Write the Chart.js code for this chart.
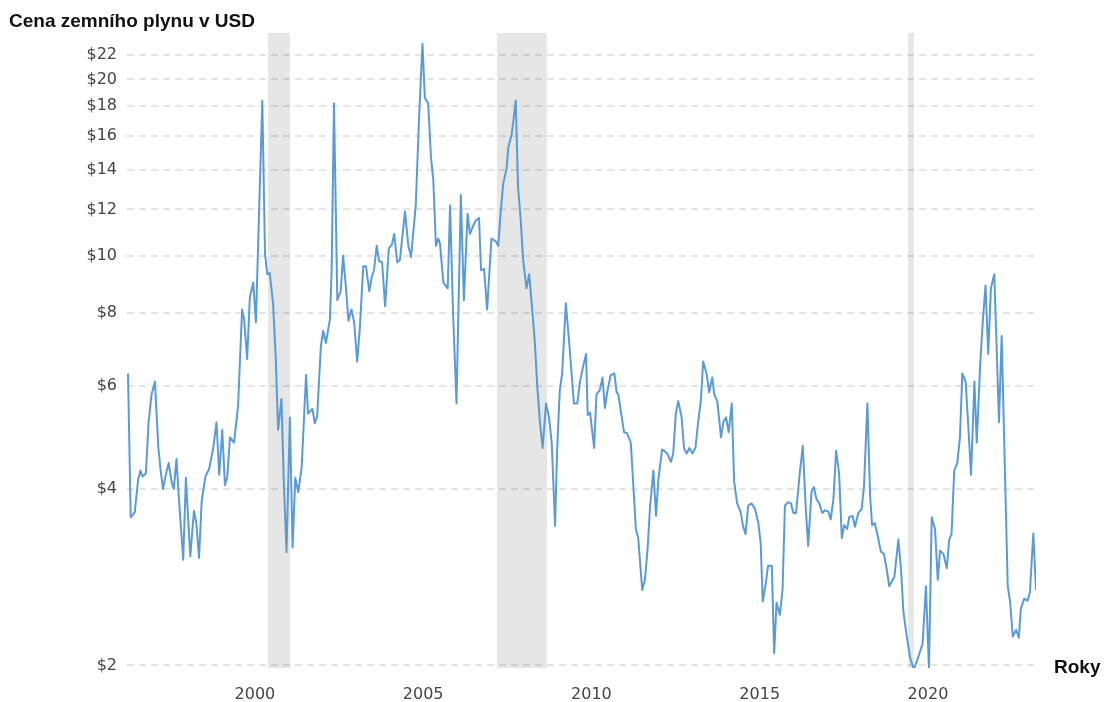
<!DOCTYPE html>
<html lang="cs">
<head>
    <meta charset="UTF-8">
    <title>Cena zemního plynu v USD</title>
    <script src="https://cdn.jsdelivr.net/npm/chart.js"></script>
    <style>
        body {
            margin: 0;
            background: white;
            font-family: "Liberation Sans", Arial, sans-serif;
        }

        #wrap {
            position: relative;
            width: 1104px;
            height: 702px;
        }

        .label {
            position: absolute;
            font-weight: bold;
            font-size: 19px;
            line-height: 19px;
            color: #111;
            white-space: nowrap;
        }
    </style>
</head>
<body>
    <div id="wrap">
        <canvas id="gasChart" width="1104" height="702"></canvas>
        <div class="label" style="left: 9px; top: 11px;">Cena zemního plynu v USD</div>
        <div class="label" style="left: 1054px; top: 657px;">Roky</div>
    </div>

    <script>
        // monthly-ish readings of the price line (year, USD)
        const dates = [
            1996.23,1996.31,1996.43,1996.53,1996.60,1996.66,1996.76,1996.84,1996.93,1997.03,
            1997.13,1997.20,1997.27,1997.36,1997.44,1997.52,1997.59,1997.67,1997.75,1997.87,
            1997.95,1998.08,1998.19,1998.26,1998.34,1998.42,1998.53,1998.64,1998.76,1998.86,
            1998.94,1999.03,1999.11,1999.18,1999.26,1999.38,1999.50,1999.62,1999.68,1999.77,
            1999.85,1999.95,2000.03,2000.10,2000.22,2000.30,2000.37,2000.44,2000.54,2000.62,
            2000.69,2000.79,2000.86,2000.94,2001.04,2001.12,2001.20,2001.29,2001.39,2001.52,
            2001.58,2001.71,2001.78,2001.85,2001.96,2002.03,2002.11,2002.23,2002.28,2002.35,
            2002.45,2002.55,2002.62,2002.70,2002.78,2002.87,2002.95,2003.04,2003.12,2003.22,
            2003.30,2003.40,2003.47,2003.54,2003.62,2003.69,2003.78,2003.87,2003.98,2004.07,
            2004.14,2004.23,2004.31,2004.46,2004.56,2004.64,2004.78,2004.88,2004.98,2005.05,
            2005.15,2005.23,2005.30,2005.38,2005.45,2005.50,2005.60,2005.73,2005.80,2005.89,
            2005.99,2006.12,2006.21,2006.32,2006.39,2006.47,2006.57,2006.66,2006.72,2006.81,
            2006.90,2007.03,2007.15,2007.23,2007.30,2007.38,2007.48,2007.53,2007.63,2007.68,
            2007.75,2007.82,2007.90,2007.97,2008.07,2008.15,2008.24,2008.32,2008.39,2008.47,
            2008.55,2008.65,2008.74,2008.82,2008.92,2008.98,2009.06,2009.13,2009.24,2009.34,
            2009.48,2009.58,2009.66,2009.76,2009.84,2009.89,2009.96,2010.08,2010.15,2010.25,
            2010.33,2010.40,2010.48,2010.57,2010.68,2010.75,2010.80,2010.88,2010.97,2011.06,
            2011.17,2011.24,2011.32,2011.39,2011.51,2011.59,2011.67,2011.74,2011.84,2011.92,
            2011.99,2012.10,2012.16,2012.25,2012.36,2012.43,2012.51,2012.58,2012.68,2012.75,
            2012.83,2012.91,2013.00,2013.09,2013.17,2013.25,2013.32,2013.42,2013.50,2013.59,
            2013.65,2013.74,2013.85,2013.92,2014.00,2014.08,2014.17,2014.24,2014.33,2014.43,
            2014.51,2014.58,2014.66,2014.76,2014.86,2014.96,2015.03,2015.09,2015.18,2015.25,
            2015.36,2015.43,2015.50,2015.60,2015.68,2015.75,2015.85,2015.93,2016.00,2016.08,
            2016.18,2016.28,2016.37,2016.44,2016.54,2016.61,2016.69,2016.77,2016.86,2016.94,
            2017.04,2017.11,2017.19,2017.27,2017.36,2017.44,2017.51,2017.60,2017.66,2017.76,
            2017.83,2017.93,2018.03,2018.10,2018.20,2018.28,2018.34,2018.42,2018.52,2018.60,
            2018.69,2018.77,2018.85,2018.92,2019.00,2019.12,2019.20,2019.27,2019.37,2019.47,
            2019.58,2019.68,2019.84,2019.94,2020.03,2020.11,2020.21,2020.29,2020.36,2020.46,
            2020.56,2020.63,2020.70,2020.78,2020.87,2020.95,2021.02,2021.12,2021.20,2021.28,
            2021.38,2021.45,2021.55,2021.63,2021.71,2021.79,2021.87,2021.97,2022.04,2022.11,
            2022.19,2022.29,2022.37,2022.44,2022.52,2022.62,2022.70,2022.76,2022.86,2022.96,
            2023.03,2023.13,2023.21
        ];
        const prices = [
            6.3,3.58,3.65,4.15,4.3,4.2,4.25,5.19,5.8,6.1,
            4.72,4.3,4.0,4.25,4.43,4.13,4.0,4.5,3.8,3.03,
            4.18,3.07,3.67,3.5,3.05,3.82,4.2,4.33,4.69,5.2,
            4.23,5.05,4.06,4.2,4.9,4.8,5.54,8.1,7.8,6.67,
            8.5,9.0,7.7,10.6,18.4,10.1,9.3,9.35,8.3,6.7,
            5.05,5.7,4.1,3.12,5.3,3.18,4.18,3.95,4.36,6.26,
            5.38,5.48,5.18,5.32,7.0,7.45,7.1,7.8,9.4,18.2,
            8.4,8.7,10.0,8.9,7.75,8.1,7.7,6.6,7.55,9.6,
            9.6,8.7,9.2,9.45,10.4,9.8,9.75,8.2,10.3,10.45,
            10.9,9.75,9.85,11.9,10.4,9.95,12.2,17.3,23.0,18.6,
            18.2,14.8,13.5,10.4,10.7,10.5,9.0,8.8,12.2,7.95,
            5.6,12.7,8.4,11.8,10.9,11.2,11.5,11.6,9.45,9.5,
            8.1,10.7,10.6,10.4,11.8,13.3,14.1,15.3,16.1,17.0,
            18.4,13.1,11.5,9.85,8.8,9.3,8.1,7.1,6.0,5.2,
            4.7,5.6,5.3,4.8,3.46,4.65,5.9,6.3,8.3,7.1,
            5.6,5.6,6.1,6.5,6.8,5.35,5.4,4.7,5.8,5.9,
            6.2,5.5,5.9,6.25,6.3,5.85,5.8,5.4,5.0,4.98,
            4.8,4.1,3.42,3.3,2.69,2.8,3.17,3.72,4.3,3.6,
            4.16,4.67,4.65,4.6,4.45,4.6,5.4,5.65,5.3,4.7,
            4.6,4.7,4.6,4.7,5.2,5.65,6.6,6.3,5.85,6.2,
            5.8,5.65,4.9,5.2,5.3,5.0,5.6,4.12,3.78,3.66,
            3.45,3.35,3.75,3.78,3.7,3.5,3.23,2.57,2.76,2.96,
            2.96,2.1,2.56,2.44,2.7,3.75,3.8,3.78,3.64,3.64,
            4.2,4.74,3.7,3.2,3.96,4.03,3.84,3.78,3.64,3.68,
            3.66,3.55,3.84,4.65,4.25,3.3,3.47,3.42,3.58,3.6,
            3.45,3.64,3.7,4.05,5.6,3.9,3.47,3.5,3.3,3.13,
            3.1,2.93,2.73,2.78,2.83,3.28,2.92,2.47,2.24,2.06,
            1.97,2.04,2.18,2.73,1.97,3.58,3.42,2.8,3.14,3.1,
            2.93,3.28,3.35,4.3,4.43,4.9,6.3,6.1,5.1,4.23,
            6.1,4.8,6.5,7.75,8.9,6.8,8.8,9.3,7.0,5.2,
            7.3,4.22,2.73,2.57,2.24,2.3,2.23,2.5,2.6,2.58,
            2.67,3.36,2.69
        ];

        const yearTicks = [2000, 2005, 2010, 2015, 2020];
        const priceTicks = [2, 4, 6, 8, 10, 12, 14, 16, 18, 20, 22];

        // shaded periods [from, to]
        const recessions = [
            [2000.39, 2001.04],
            [2007.19, 2008.68],
            [2019.41, 2019.58]
        ];

        const shading = {
            id: 'shading',
            beforeDraw(chart) {
                const { ctx, chartArea, scales } = chart;
                ctx.save();
                ctx.fillStyle = '#e6e6e6';
                recessions.forEach(([a, b]) => {
                    const x1 = scales.x.getPixelForValue(a);
                    const x2 = scales.x.getPixelForValue(b);
                    ctx.fillRect(x1, chartArea.top, x2 - x1, chartArea.bottom - chartArea.top);
                });
                ctx.restore();
            }
        };

        const tickFont = { family: '"DejaVu Sans", Verdana, sans-serif', size: 16 };

        new Chart(document.getElementById('gasChart'), {
            type: 'line',
            data: {
                datasets: [{
                    data: dates.map((d, i) => ({ x: d, y: prices[i] })),
                    borderColor: '#5b9bd5',
                    borderWidth: 2,
                    borderJoinStyle: 'round',
                    pointRadius: 0,
                    tension: 0,
                    fill: false
                }]
            },
            options: {
                responsive: false,
                animation: false,
                layout: { padding: { top: 33, right: 68, left: 0, bottom: 0 } },
                plugins: {
                    legend: { display: false },
                    tooltip: { enabled: false }
                },
                scales: {
                    x: {
                        type: 'linear',
                        min: 1996.2,
                        max: 2023.21,
                        grid: { display: false },
                        border: { display: false },
                        afterBuildTicks: s => { s.ticks = yearTicks.map(v => ({ value: v })); },
                        afterFit: s => { s.height = 34; },
                        ticks: {
                            autoSkip: false,
                            maxRotation: 0,
                            padding: 9,
                            color: '#444',
                            font: tickFont,
                            callback: v => String(v)
                        }
                    },
                    y: {
                        type: 'logarithmic',
                        min: 1.98,
                        max: 24,
                        grid: {
                            color: 'rgba(0,0,0,0.1)',
                            lineWidth: 2,
                            drawTicks: false
                        },
                        border: { display: false, dash: [7, 5] },
                        afterBuildTicks: s => { s.ticks = priceTicks.map(v => ({ value: v })); },
                        afterFit: s => { s.width = 127; },
                        ticks: {
                            autoSkip: false,
                            padding: 10,
                            color: '#444',
                            font: tickFont,
                            callback: v => '$' + v
                        }
                    }
                }
            },
            plugins: [shading]
        });
    </script>
</body>
</html>
